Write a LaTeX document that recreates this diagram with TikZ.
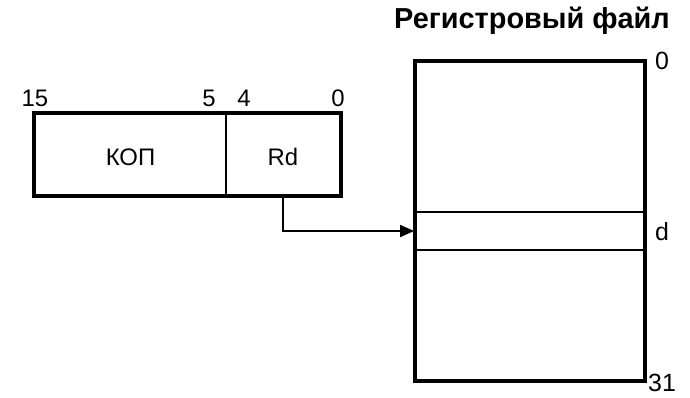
\documentclass[tikz,border=0pt]{standalone}
\usepackage{fontspec}
\setmainfont{Liberation Sans}
\usetikzlibrary{arrows.meta}
\begin{document}
\begin{tikzpicture}[x=1bp,y=-1bp,
  thick frame/.style={line width=3.5bp},
  thin line/.style={line width=1.8bp},
  field/.style={draw, thin line, inner sep=0pt, minimum height=81bp,
    text height=22bp, text depth=0bp,
    font=\fontsize{24}{26}\selectfont},
  lbl/.style={font=\fontsize{25}{27}\selectfont, inner sep=0pt},
  bitno/.style={font=\fontsize{24}{26}\selectfont, inner sep=0pt, anchor=base}]
  \useasboundingbox (0,0) rectangle (690,397);

  % instruction word: opcode and destination register fields
  \node[field, minimum width=191bp] (kop) at (130.5,154.5) {КОП};
  \node[field, minimum width=114bp] (rd) at (283,154.5) {Rd};
  \draw[thick frame] (kop.north west) rectangle (rd.south east);

  % bit numbers
  \node[bitno] (b15) at (35,106) {15};
  \node[bitno] (b5) at (209,106) {5};
  \node[bitno] (b4) at (244,106) {4};
  \node[bitno] (b0) at (338,106) {0};

  % register file with the selected row d
  \node[font=\bfseries\fontsize{29}{32}\selectfont, inner sep=0pt] (title) at (532,21) {Регистровый файл};
  \node[draw, thin line, inner sep=0pt, minimum width=230bp, minimum height=38bp] (regd) at (530,231) {};
  \draw[thick frame] (415,61) rectangle (645,381);
  \node[lbl, anchor=west] (r0) at (655,61) {0};
  \node[lbl, anchor=west] (rdlabel) at (655,232) {d};
  \node[lbl, anchor=west] (r31) at (648,383) {31};

  % field Rd selects register d
  \draw[thin line, -{Triangle[length=14bp,width=12bp]}] (rd.south) |- (regd.west);
\end{tikzpicture}
\end{document}
